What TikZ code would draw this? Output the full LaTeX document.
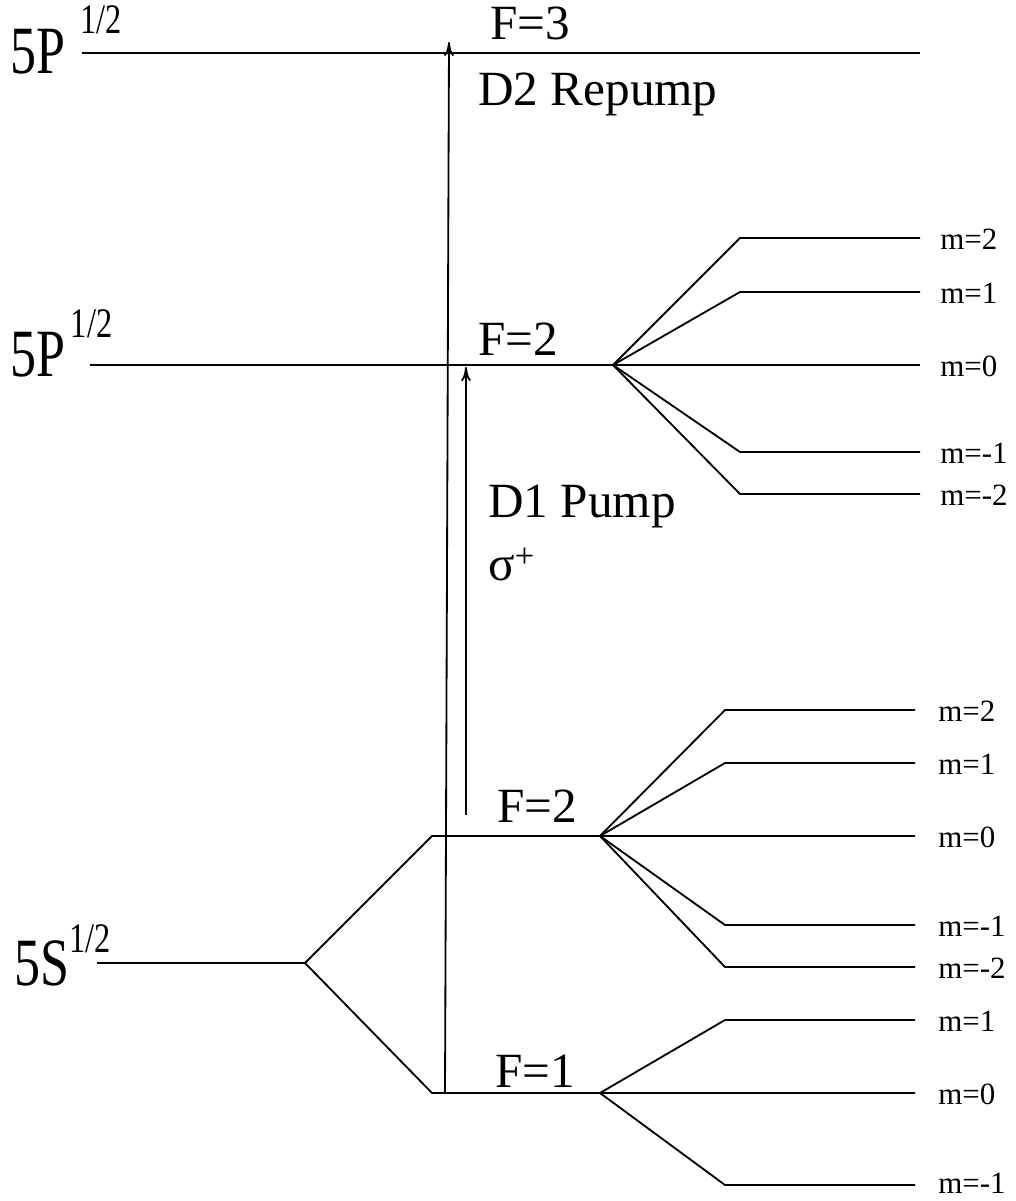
\documentclass[tikz,border=0pt]{standalone}
\usepackage{fontspec}
\setmainfont{Liberation Serif}
\newfontfamily\timesfont{Liberation Serif}
\usepackage{graphicx}
\usetikzlibrary{arrows.meta}

\tikzset{
  level/.style={line width=1.3pt},
  bigtxt/.style={anchor=base west, inner sep=0pt, font=\timesfont\fontsize{37}{40}\selectfont},
  ftxt/.style={anchor=base west, inner sep=0pt, font=\timesfont\fontsize{35}{37}\selectfont},
  mtxt/.style={anchor=base west, inner sep=0pt, font=\timesfont\fontsize{22}{24}\selectfont},
}
% term symbol: letters, kern before superscript, raise of superscript
\newcommand{\term}[3]{\scalebox{1}[1.3]{#1\kern#2\raisebox{#3}{\fontsize{23}{24}\selectfont 1/2}}}

\begin{document}
\begin{tikzpicture}[x=0.025cm, y=-0.025cm, >={To[length=10pt,width=7pt]}]
    \useasboundingbox (0,0) rectangle (1016,1201);

    % 5P, F=3
    \coordinate (p3l) at (82,53);
    \coordinate (p3r) at (920,53);
    \draw[level] (p3l) -- (p3r);
    \node[bigtxt] (p3lab) at (10,74) {\term{5P}{11pt}{22pt}};
    \node[ftxt] (f3lab) at (490,40) {F=3};
    \node[ftxt] (d2lab) at (478,106) {D2 Repump};

    % 5P, F=2 with Zeeman fan
    \coordinate (p2l) at (90,365);
    \coordinate (p2s) at (613,365);
    \draw[level] (p2l) -- (p2s) -- (920,365);
    \node[bigtxt] (p2lab) at (10,376) {\term{5P}{4pt}{21pt}};
    \node[ftxt] (f2ulab) at (478,355) {F=2};
    \foreach \m/\y in {2/238, 1/292, -1/452, -2/494}
        \draw[level] (p2s) -- (740,\y) -- (920,\y);
    \foreach \m/\y in {2/238, 1/292, 0/365, -1/452, -2/494}
        \node[mtxt] (pm\m) at (940,\y+11) {m=\m};

    % 5S ground state
    \coordinate (sl) at (97,963);
    \coordinate (ss) at (305,963);
    \coordinate (f2l) at (432,836);
    \coordinate (f1l) at (432,1093);
    \coordinate (f2s) at (600,836);
    \coordinate (f1s) at (600,1093);
    \draw[level] (sl) -- (ss) -- (f2l) -- (f2s) -- (915,836);
    \draw[level] (ss) -- (f1l) -- (f1s) -- (915,1093);
    \node[bigtxt] (slab) at (14,985) {\term{5S}{0pt}{18pt}};
    \node[ftxt] (f2llab) at (497,822) {F=2};
    \node[ftxt] (f1lab) at (495,1087) {F=1};

    \foreach \m/\y in {2/710, 1/763, -1/925, -2/967}
        \draw[level] (f2s) -- (725,\y) -- (915,\y);
    \foreach \m/\y in {2/710, 1/763, 0/836, -1/925, -2/967}
        \node[mtxt] (sm\m) at (938,\y+11) {m=\m};

    \foreach \m/\y in {1/1020, -1/1185}
        \draw[level] (f1s) -- (725,\y) -- (915,\y);
    \foreach \m/\y in {1/1020, 0/1093}
        \node[mtxt] (fm\m) at (938,\y+11) {m=\m};
    \node[mtxt] (fm-1) at (938,1193) {m=-1};

    % transitions
    \coordinate (d2a) at (445,1093);
    \coordinate (d2b) at (449,42);
    \draw[->, level] (d2a) -- (d2b);
    \coordinate (d1a) at (466,815);
    \coordinate (d1b) at (466,367);
    \draw[->, level] (d1a) -- (d1b);
    \node[ftxt] (d1lab) at (488,517) {D1 Pump};
    \node[ftxt] (siglab) at (488,580) {σ\textsuperscript{+}};
\end{tikzpicture}
\end{document}
